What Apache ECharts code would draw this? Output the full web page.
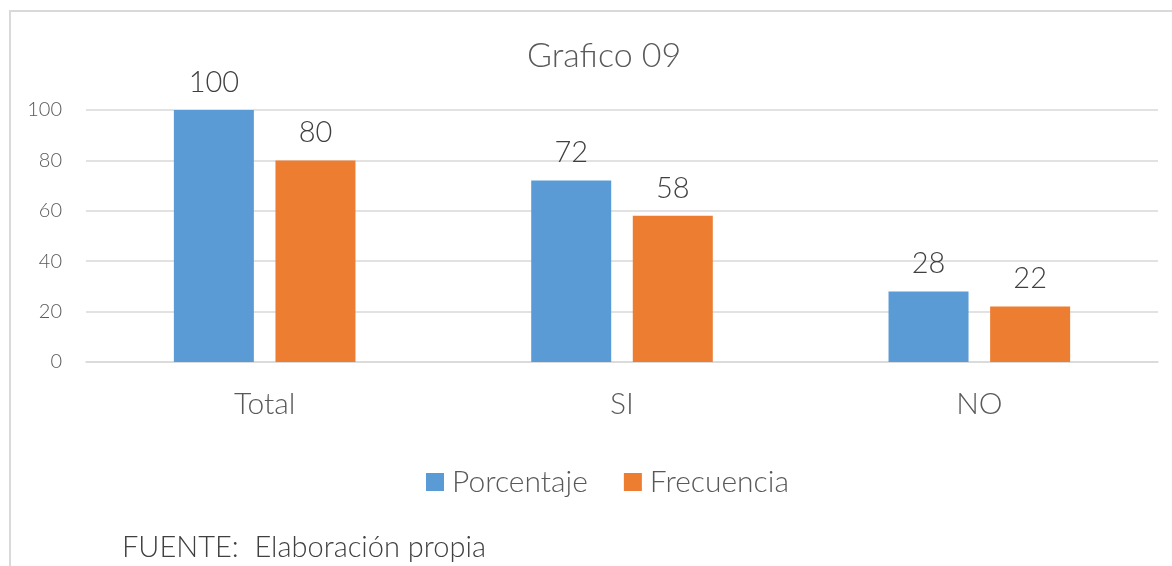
<!DOCTYPE html>
<html>
<head>
<meta charset="utf-8">
<script src="https://cdn.jsdelivr.net/npm/echarts@6/dist/echarts.min.js"></script>
<style>
  html, body { margin: 0; padding: 0; background: #fff; }
  .frame {
    position: absolute; left: 9px; top: 10px; width: 1200px; height: 600px;
    border-left: 2px solid #d9d9d9; border-top: 2px solid #d9d9d9;
  }
  #chart { position: absolute; left: 0; top: 0; width: 1172px; height: 566px; }
</style>
</head>
<body>
<div class="frame"></div>
<div id="chart"></div>
<script>
// datos del gráfico
const categories = ['Total', 'SI', 'NO'];
const porcentaje = [100, 72, 28];
const frecuencia = [80, 58, 22];
const yTicks = [0, 20, 40, 60, 80, 100];

const FONT = 'Lato, "Open Sans", sans-serif';
const GREY = '#595959';

const chart = echarts.init(document.getElementById('chart'));

const labelStyle = {
  show: true,
  position: 'top',
  distance: 13,
  color: '#404040',
  fontFamily: FONT,
  fontWeight: 300,
  fontSize: 29
};

chart.setOption({
  backgroundColor: 'transparent',
  animation: false,
  title: {
    text: 'Grafico 09',
    left: 522,
    top: 34,
    textStyle: { color: GREY, fontFamily: FONT, fontWeight: 300, fontSize: 34 }
  },
  legend: {
    bottom: 64,
    left: 421,
    itemWidth: 18,
    itemHeight: 18,
    itemGap: 36,
    icon: 'rect',
    textStyle: { color: GREY, fontFamily: FONT, fontWeight: 300, fontSize: 30, padding: [0, 0, 0, 3] },
    data: ['Porcentaje', 'Frecuencia']
  },
  grid: { left: 86, right: 14, top: 110, bottom: 204 },
  xAxis: {
    type: 'category',
    data: categories,
    axisLine: { lineStyle: { color: '#d9d9d9', width: 1.5 } },
    axisTick: { show: false },
    axisLabel: { color: GREY, fontFamily: FONT, fontWeight: 300, fontSize: 30, margin: 27 }
  },
  yAxis: {
    type: 'value',
    min: yTicks[0],
    max: yTicks[yTicks.length - 1],
    interval: 20,
    axisLine: { show: false },
    axisTick: { show: false },
    splitLine: { lineStyle: { color: '#d9d9d9', width: 1.5 } },
    axisLabel: { color: GREY, fontFamily: FONT, fontWeight: 300, fontSize: 20, margin: 24 }
  },
  series: [
    {
      name: 'Porcentaje',
      type: 'bar',
      data: porcentaje,
      barWidth: 80,
      barGap: '27%',
      itemStyle: { color: '#5b9bd5' },
      label: labelStyle
    },
    {
      name: 'Frecuencia',
      type: 'bar',
      data: frecuencia,
      barWidth: 80,
      itemStyle: { color: '#ed7d31' },
      label: labelStyle
    }
  ],
  graphic: [
    {
      type: 'text',
      left: 122,
      top: 533,
      style: {
        text: 'FUENTE:  Elaboración propia',
        fill: '#404040',
        font: '300 29px ' + FONT
      }
    }
  ]
});

window.addEventListener('resize', () => chart.resize());
</script>
</body>
</html>
